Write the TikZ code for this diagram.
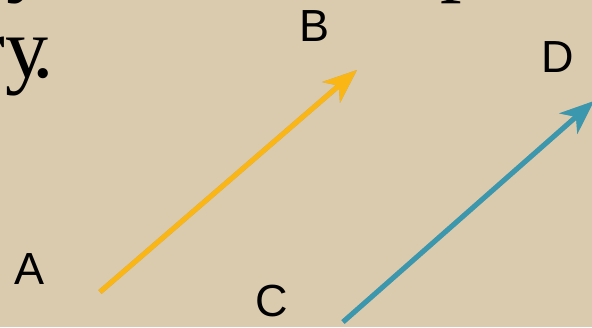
\documentclass[tikz,border=0pt]{standalone}
\usepackage{fontspec}
\setmainfont{Liberation Serif}
\newfontfamily\labelfont{Liberation Sans}
\usetikzlibrary{arrows.meta}
\definecolor{bg}{HTML}{DACBAE}
\definecolor{arryellow}{HTML}{FAB614}
\definecolor{arrblue}{HTML}{3A97AE}
\tikzset{
  lbl/.style={font=\labelfont\fontsize{45}{50}\selectfont, inner sep=0pt, anchor=base},
  bigtext/.style={font=\fontsize{86}{96}\selectfont, inner sep=0pt},
  vec/.style={line width=5pt, -{Stealth[length=34pt, width=27pt, inset=10pt]}},
  vecshadow/.style={vec, draw=black, opacity=0.18, shift={(2pt,-2.5pt)}}
}
\begin{document}
\begin{tikzpicture}[x=1pt,y=1pt]
\fill[bg] (0,0) rectangle (592,327);
\useasboundingbox (0,0) rectangle (592,327);
\clip (0,0) rectangle (592,327);
% partial text fragments
\node[bigtext, anchor=base east] (ry) at (54,249) {ry\kern-16pt.};
\node[bigtext, anchor=base west] (ytop) at (6,341) {y};
\node[bigtext, anchor=base west] (ptop) at (440,341) {p};
% labels
\node[lbl] (A) at (30,42) {A};
\node[lbl] (B) at (315,285) {B};
\node[lbl] (C) at (272,11) {C};
\node[lbl] (D) at (558,254) {D};
% coordinates for vector ends
\coordinate (a0) at (100,35);
\coordinate (a1) at (357,257);
\coordinate (c0) at (343,5);
\coordinate (c1) at (594,226);
% shadows
\draw[vecshadow] (a0) -- (a1);
\draw[vecshadow] (c0) -- (c1);
% vectors
\draw[vec, arryellow] (a0) -- (a1);
\draw[vec, arrblue] (c0) -- (c1);
\end{tikzpicture}
\end{document}
